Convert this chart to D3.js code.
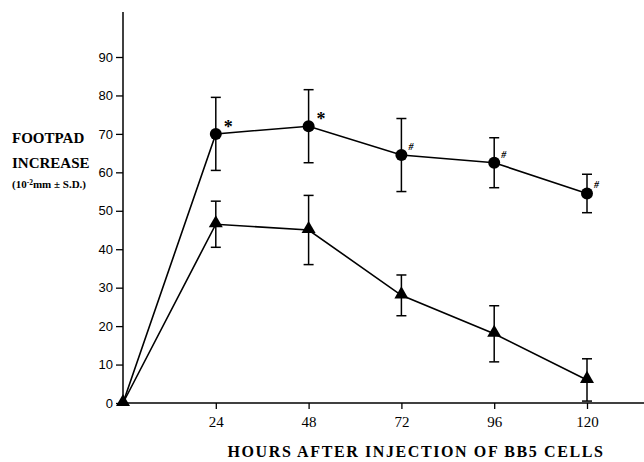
<!DOCTYPE html>
<html>
<head>
<meta charset="utf-8">
<script src="https://cdn.jsdelivr.net/npm/d3@7"></script>
<style>
body { margin: 0; background: #fff; }
svg { display: block; }
</style>
</head>
<body>
<svg id="chart" width="644" height="462"></svg>
<script>
var hours = [0, 24, 48, 72, 96, 120];
var circleMean = [0, 70, 72, 64.5, 62.5, 54.5];
var circleSD = [0, 9.5, 9.5, 9.5, 6.5, 5];
var circleMark = ["", "*", "*", "#", "#", "#"];
var triMean = [0, 46.5, 45, 28, 18, 6];
var triSD = [0, 6, 9, 5.3, 7.3, 5.5];
var yTicks = [0, 10, 20, 30, 40, 50, 60, 70, 80, 90];
var xTicks = [24, 48, 72, 96, 120];

var svg = d3.select("#chart");
var x = d3.scaleLinear().domain([0, 120]).range([123, 587]);
var y = d3.scaleLinear().domain([0, 90]).range([403, 57]);

// axes
svg.append("line")
    .attr("x1", x(0)).attr("x2", x(0))
    .attr("y1", 12).attr("y2", y(0))
    .attr("stroke", "#000").attr("stroke-width", 1.5);
svg.append("line")
    .attr("x1", x(0)).attr("x2", 644)
    .attr("y1", y(0)).attr("y2", y(0))
    .attr("stroke", "#000").attr("stroke-width", 1.5);

var yAxis = d3.axisLeft(y).tickValues(yTicks).tickSize(7).tickPadding(3);
var gy = svg.append("g")
    .attr("transform", "translate(" + x(0) + ",0)")
    .call(yAxis);
gy.select(".domain").remove();
gy.selectAll("line").attr("stroke", "#000").attr("stroke-width", 1.3);
gy.selectAll("text")
    .attr("font-family", "Liberation Sans, Arial, sans-serif")
    .attr("font-size", 13).attr("fill", "#000");

var xAxis = d3.axisBottom(x).tickValues(xTicks).tickSize(6).tickPadding(7);
var gx = svg.append("g")
    .attr("transform", "translate(0," + y(0) + ")")
    .call(xAxis);
gx.select(".domain").remove();
gx.selectAll("line").attr("stroke", "#000").attr("stroke-width", 1.3);
gx.selectAll("text")
    .attr("font-family", "Liberation Serif, Times New Roman, serif")
    .attr("font-size", 15).attr("fill", "#000");

// titles
svg.append("text")
    .attr("x", 416).attr("y", 457)
    .attr("text-anchor", "middle")
    .attr("font-family", "Liberation Serif, Times New Roman, serif")
    .attr("font-weight", "bold").attr("font-size", 16)
    .attr("letter-spacing", 1.6)
    .text("HOURS AFTER INJECTION OF BB5 CELLS");

var ylab = svg.append("g")
    .attr("font-family", "Liberation Serif, Times New Roman, serif")
    .attr("font-weight", "bold");
ylab.append("text").attr("x", 12).attr("y", 143).attr("font-size", 15).text("FOOTPAD");
ylab.append("text").attr("x", 12).attr("y", 168).attr("font-size", 15).text("INCREASE");
var small = ylab.append("text").attr("x", 12).attr("y", 188).attr("font-size", 11);
small.append("tspan").text("(10");
small.append("tspan").attr("dy", -3).attr("font-size", 7.5).text("-2");
small.append("tspan").attr("dy", 3).text("mm \u00b1 S.D.)");

// series
function series(mean, sd) {
    return hours.map(function(h, i) { return {h: h, m: mean[i], s: sd[i], i: i}; });
}
var circ = series(circleMean, circleSD);
var tri = series(triMean, triSD);

var line = d3.line()
    .x(function(d) { return x(d.h); })
    .y(function(d) { return y(d.m); });

[circ, tri].forEach(function(data) {
    svg.append("path")
        .datum(data)
        .attr("d", line)
        .attr("fill", "none")
        .attr("stroke", "#000")
        .attr("stroke-width", 1.6);

    var eb = svg.append("g").selectAll("g")
        .data(data.filter(function(d) { return d.s > 0; }))
        .join("g")
        .attr("stroke", "#000")
        .attr("stroke-width", 1.5);
    eb.append("line")
        .attr("x1", function(d) { return x(d.h); })
        .attr("x2", function(d) { return x(d.h); })
        .attr("y1", function(d) { return y(d.m + d.s); })
        .attr("y2", function(d) { return y(d.m - d.s); });
    eb.append("line")
        .attr("x1", function(d) { return x(d.h) - 5; })
        .attr("x2", function(d) { return x(d.h) + 5; })
        .attr("y1", function(d) { return y(d.m + d.s); })
        .attr("y2", function(d) { return y(d.m + d.s); });
    eb.append("line")
        .attr("x1", function(d) { return x(d.h) - 5; })
        .attr("x2", function(d) { return x(d.h) + 5; })
        .attr("y1", function(d) { return y(d.m - d.s); })
        .attr("y2", function(d) { return y(d.m - d.s); });
});

svg.append("g").selectAll("circle")
    .data(circ.filter(function(d) { return d.h > 0; }))
    .join("circle")
    .attr("cx", function(d) { return x(d.h); })
    .attr("cy", function(d) { return y(d.m); })
    .attr("r", 6)
    .attr("fill", "#000");

var triSym = d3.symbol().type(d3.symbolTriangle).size(85);
svg.append("g").selectAll("path")
    .data(tri)
    .join("path")
    .attr("transform", function(d) { return "translate(" + x(d.h) + "," + (y(d.m) - 1) + ")"; })
    .attr("d", triSym)
    .attr("fill", "#000");

// significance marks
svg.append("g").selectAll("text")
    .data(circ.filter(function(d) { return circleMark[d.i] != ""; }))
    .join("text")
    .attr("x", function(d) { return x(d.h) + (circleMark[d.i] == "*" ? 8 : 7); })
    .attr("y", function(d) { return y(d.m) + (circleMark[d.i] == "*" ? -1 : -5); })
    .attr("font-family", "Liberation Serif, Times New Roman, serif")
    .attr("font-weight", "bold")
    .attr("font-size", function(d) { return circleMark[d.i] == "*" ? 18 : 10; })
    .attr("font-style", function(d) { return circleMark[d.i] == "#" ? "italic" : "normal"; })
    .text(function(d) { return circleMark[d.i]; });
</script>
</body>
</html>
